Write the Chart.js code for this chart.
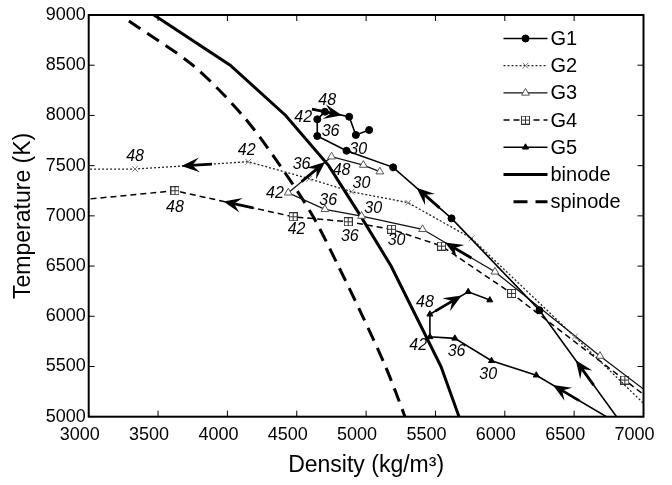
<!DOCTYPE html>
<html>
<head>
<meta charset="utf-8">
<script src="https://cdn.jsdelivr.net/npm/chart.js@4.4.0/dist/chart.umd.min.js"></script>
<style>
html, body { margin: 0; padding: 0; background: #fff; }
#wrap { width: 672px; height: 485px; position: relative; }
</style>
</head>
<body>
<div id="wrap"><canvas id="chart"></canvas></div>
<script>
// trajectories, in time order (first / last points lie just outside the axes and get clipped)
const g1Dens = [6858, 6250, 5616, 5195, 4859, 4648, 4648, 4703, 4878, 4926, 5022];
const g1Temp = [4900, 6060, 6975, 7483, 7648, 7795, 7961, 8037, 7987, 7805, 7855];
const g2Dens = [7100, 6505, 5760, 5303, 4895, 4590, 4150, 3334, 2900];
const g2Temp = [4999, 5796, 6776, 7131, 7240, 7370, 7539, 7466, 7466];
const g3Dens = [7100, 6686, 5929, 5407, 4967, 4703, 4439, 4751, 4980, 5099];
const g3Temp = [5170, 5604, 6443, 6866, 6998, 7065, 7230, 7589, 7506, 7440];
const g4Dens = [7100, 6865, 6049, 5544, 5184, 4871, 4474, 3622, 2900];
const g4Temp = [5116, 5365, 6228, 6699, 6866, 6941, 6991, 7250, 7154];
const g5Dens = [6855, 6227, 5904, 5640, 5460, 5460, 5736, 5892];
const g5Temp = [4900, 5413, 5557, 5780, 5795, 6020, 6244, 6161];

// phase boundaries
const binodeDens = [3410, 4020, 4420, 4730, 4960, 5180, 5360, 5540, 5670, 5700];
const binodeTemp = [9055, 8500, 8000, 7500, 7000, 6500, 6000, 5500, 5000, 4890];
const spinodeDens = [3290, 3750, 4110, 4380, 4615, 4800, 4975, 5140, 5280, 5300];
const spinodeTemp = [8940, 8500, 8000, 7500, 7000, 6500, 6000, 5500, 5000, 4900];

// time annotations: [density, temperature, text]
const timeLabels = [
  [4720, 8146, '48'], [4547, 7981, '42'], [4744, 7838, '36'], [4943, 7662, '30'],
  [3334, 7589, '48'], [4139, 7655, '42'], [4535, 7506, '36'], [4967, 7324, '30'],
  [4823, 7456, '48'], [4343, 7224, '42'], [4727, 7157, '36'], [5051, 7075, '30'],
  [3622, 7085, '48'], [4499, 6859, '42'], [4883, 6792, '36'], [5220, 6759, '30'],
  [5424, 6134, '48'], [5376, 5713, '42'], [5652, 5646, '36'], [5880, 5424, '30']
];

// arrowheads: [dataset index, segment start index, position along segment]
const arrows = [
  [0, 0, 0.57], [0, 2, 0.6], [0, 7, 0.7],
  [1, 6, 0.59],
  [2, 2, 0.69], [2, 6, 0.85],
  [3, 6, 0.59],
  [4, 0, 0.81], [4, 5, 0.83]
];

const toXY = (xs, ys) => xs.map((v, i) => ({x: v, y: ys[i]}));

// square-with-cross marker used by G4
function boxPlus() {
  const c = document.createElement('canvas');
  c.width = 9; c.height = 9;
  const g = c.getContext('2d');
  g.fillStyle = '#fff';
  g.fillRect(0.5, 0.5, 8, 8);
  g.strokeStyle = '#333';
  g.lineWidth = 1;
  g.strokeRect(0.5, 0.5, 8, 8);
  g.beginPath();
  g.moveTo(4.5, 0.5); g.lineTo(4.5, 8.5);
  g.moveTo(0.5, 4.5); g.lineTo(8.5, 4.5);
  g.stroke();
  return c;
}

Chart.defaults.font.family = "'Liberation Sans', Arial, sans-serif";
Chart.defaults.color = '#000';

// inward ticks on all four sides + box
const frame = {
  id: 'frame',
  afterDatasetsDraw(chart) {
    const {ctx, chartArea: a, scales: {x, y}} = chart;
    ctx.save();
    ctx.strokeStyle = '#000';
    ctx.lineWidth = 1;
    ctx.beginPath();
    x.ticks.forEach(t => {
      const px = x.getPixelForValue(t.value);
      ctx.moveTo(px, a.bottom); ctx.lineTo(px, a.bottom - 6);
      ctx.moveTo(px, a.top); ctx.lineTo(px, a.top + 6);
    });
    y.ticks.forEach(t => {
      const py = y.getPixelForValue(t.value);
      ctx.moveTo(a.left, py); ctx.lineTo(a.left + 6, py);
      ctx.moveTo(a.right, py); ctx.lineTo(a.right - 6, py);
    });
    ctx.stroke();
    ctx.lineWidth = 2;
    ctx.strokeRect(a.left, a.top, a.width, a.height);
    ctx.restore();
  }
};

// arrowheads and time labels
const notes = {
  id: 'notes',
  afterDatasetsDraw(chart) {
    const {ctx, chartArea: a, scales: {x, y}} = chart;
    ctx.save();
    ctx.beginPath();
    ctx.rect(a.left, a.top, a.width, a.height);
    ctx.clip();
    ctx.fillStyle = '#000';
    ctx.strokeStyle = '#000';
    arrows.forEach(([d, i, f]) => {
      const pts = chart.getDatasetMeta(d).data;
      const p0 = pts[i], p1 = pts[i + 1];
      const tx = p0.x + (p1.x - p0.x) * f, ty = p0.y + (p1.y - p0.y) * f;
      const len = Math.hypot(p1.x - p0.x, p1.y - p0.y);
      const ux = (p1.x - p0.x) / len, uy = (p1.y - p0.y) / len;
      const nx = -uy, ny = ux;
      const L = 18, W = 7.5;
      ctx.lineWidth = 2.8;
      ctx.beginPath();
      ctx.moveTo(tx - ux * L * 1.7, ty - uy * L * 1.7);
      ctx.lineTo(tx - ux * L * 0.5, ty - uy * L * 0.5);
      ctx.stroke();
      ctx.beginPath();
      ctx.moveTo(tx, ty);
      ctx.lineTo(tx - ux * L + nx * W, ty - uy * L + ny * W);
      ctx.lineTo(tx - ux * L * 0.6, ty - uy * L * 0.6);
      ctx.lineTo(tx - ux * L - nx * W, ty - uy * L - ny * W);
      ctx.closePath();
      ctx.fill();
    });
    ctx.font = "italic 16px 'Liberation Sans', Arial, sans-serif";
    ctx.textAlign = 'center';
    ctx.textBaseline = 'middle';
    timeLabels.forEach(([d, t, s]) => {
      ctx.fillText(s, x.getPixelForValue(d), y.getPixelForValue(t));
    });
    ctx.restore();
  }
};

// legend inside the top-right corner
const inLegend = {
  id: 'inLegend',
  afterDraw(chart) {
    const {ctx, chartArea: a} = chart;
    ctx.save();
    chart.data.datasets.forEach((ds, i) => {
      const yy = a.top + 23.5 + i * 27.2;
      const x0 = a.right - 140, x1 = a.right - 96;
      ctx.strokeStyle = ds.borderColor;
      ctx.lineWidth = ds.borderWidth;
      ctx.setLineDash(ds.borderDash || []);
      ctx.beginPath();
      ctx.moveTo(ds.label === 'spinode' ? x0 + 10 : x0, yy);
      ctx.lineTo(x1, yy);
      ctx.stroke();
      ctx.setLineDash([]);
      if (ds.pointRadius > 0) {
        ctx.fillStyle = ds.pointBackgroundColor;
        ctx.strokeStyle = ds.pointBorderColor;
        ctx.lineWidth = ds.pointBorderWidth;
        Chart.helpers.drawPoint(ctx, {pointStyle: ds.pointStyle, radius: ds.pointRadius,
          borderWidth: ds.pointBorderWidth, rotation: 0}, (x0 + x1) / 2, yy);
      }
      ctx.fillStyle = '#000';
      ctx.font = "20px 'Liberation Sans', Arial, sans-serif";
      ctx.textAlign = 'left';
      ctx.textBaseline = 'middle';
      ctx.fillText(ds.label, x1 + 3, yy + 1);
    });
    ctx.restore();
  }
};

new Chart(document.getElementById('chart'), {
  type: 'scatter',
  data: {
    datasets: [
      {label: 'G1', data: toXY(g1Dens, g1Temp), showLine: true, clip: 0,
       borderColor: '#000', borderWidth: 1.6, pointStyle: 'circle', pointRadius: 3.5,
       pointBackgroundColor: '#000', pointBorderColor: '#000', pointBorderWidth: 1},
      {label: 'G2', data: toXY(g2Dens, g2Temp), showLine: true, clip: 0,
       borderColor: '#222', borderWidth: 1.3, borderDash: [2, 2], pointStyle: 'crossRot', pointRadius: 4,
       pointBackgroundColor: 'rgba(0,0,0,0)', pointBorderColor: '#777', pointBorderWidth: 1},
      {label: 'G3', data: toXY(g3Dens, g3Temp), showLine: true, clip: 0,
       borderColor: '#111', borderWidth: 1.3, pointStyle: 'triangle', pointRadius: 4.5,
       pointBackgroundColor: '#fff', pointBorderColor: '#555', pointBorderWidth: 1},
      {label: 'G4', data: toXY(g4Dens, g4Temp), showLine: true, clip: 0,
       borderColor: '#000', borderWidth: 1.5, borderDash: [6, 4], pointStyle: boxPlus(), pointRadius: 4,
       pointBackgroundColor: '#fff', pointBorderColor: '#333', pointBorderWidth: 1},
      {label: 'G5', data: toXY(g5Dens, g5Temp), showLine: true, clip: 0,
       borderColor: '#000', borderWidth: 1.6, pointStyle: 'triangle', pointRadius: 3.5,
       pointBackgroundColor: '#000', pointBorderColor: '#000', pointBorderWidth: 1},
      {label: 'binode', data: toXY(binodeDens, binodeTemp), showLine: true, clip: 0,
       borderColor: '#000', borderWidth: 3, pointRadius: 0},
      {label: 'spinode', data: toXY(spinodeDens, spinodeTemp), showLine: true, clip: 0,
       borderColor: '#000', borderWidth: 3, borderDash: [14, 8], pointRadius: 0, tension: 0.3}
    ]
  },
  options: {
    responsive: true,
    maintainAspectRatio: false,
    animation: false,
    events: [],
    layout: {padding: {top: 15, right: 28.5, left: 0, bottom: 0}},
    plugins: {legend: {display: false}, tooltip: {enabled: false}},
    scales: {
      x: {
        type: 'linear', min: 3000, max: 7000,
        grid: {display: false, drawTicks: false},
        border: {display: false},
        ticks: {stepSize: 500, font: {size: 18}, color: '#000', padding: 8, labelOffset: -9, maxRotation: 0,
                callback: v => String(v)},
        title: {display: true, text: 'Density (kg/m³)', font: {size: 23}, color: '#000', padding: {top: 0, bottom: 6}},
        afterFit(s) { s.height = 68.3; }
      },
      y: {
        type: 'linear', min: 5000, max: 9000,
        grid: {display: false, drawTicks: false},
        border: {display: false},
        ticks: {stepSize: 500, font: {size: 18}, color: '#000', padding: 3, callback: v => String(v)},
        title: {display: true, text: 'Temperature (K)', font: {size: 23}, color: '#000', padding: {top: 10, bottom: 0}},
        afterFit(s) { s.width = 88.7; }
      }
    }
  },
  plugins: [frame, notes, inLegend]
});
</script>
</body>
</html>
